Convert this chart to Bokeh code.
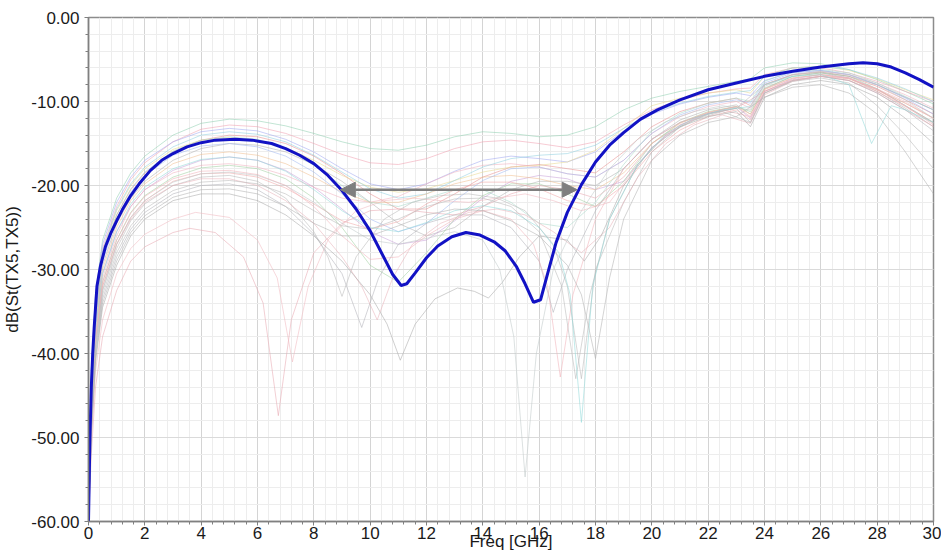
from bokeh.plotting import figure
from bokeh.models import Range1d, Arrow, NormalHead, PrintfTickFormatter, FixedTicker
from bokeh.embed import file_html
from bokeh.resources import INLINE

# ---------------- data ----------------
# highlighted trace (bold blue)
blue_freq = [0, 0.05, 0.1, 0.15, 0.2, 0.3, 0.43, 0.6, 0.8, 1.0, 1.2, 1.5, 1.8, 2.2, 2.6, 3.0, 3.5,
             4.0, 4.5, 5.2, 5.8, 6.5, 7.0, 7.5, 8.0, 8.5, 9.0, 9.5, 10.0, 10.4, 10.8, 11.1, 11.3,
             11.6, 12.0, 12.4, 12.9, 13.4, 13.9, 14.4, 14.8, 15.2, 15.5, 15.8, 16.05, 16.3, 16.6,
             17.0, 17.5, 18.0, 18.5, 19.0, 19.6, 20.2, 21.0, 22.0, 23.0, 24.0, 25.0, 26.0, 27.0,
             27.5, 28.0, 28.5, 29.0, 29.5, 30.0]
blue_db = [-60, -50, -44, -40, -37, -32, -29.5, -27.3, -25.6, -24.2, -22.9, -21.2, -19.8, -18.2,
           -17.0, -16.2, -15.4, -14.9, -14.6, -14.5, -14.6, -15.0, -15.6, -16.4, -17.4, -18.8,
           -20.6, -22.8, -25.4, -28.0, -30.6, -31.9, -31.7, -30.4, -28.6, -27.2, -26.1, -25.6,
           -25.9, -26.7, -27.8, -29.7, -31.7, -33.9, -33.6, -30.5, -26.8, -23.2, -19.9, -17.2,
           -15.2, -13.7, -12.1, -11.0, -9.8, -8.6, -7.8, -7.0, -6.4, -5.9, -5.5, -5.4, -5.5,
           -5.9, -6.6, -7.4, -8.3]

# double arrow marker
arrow_x0 = 8.94
arrow_x1 = 17.35
arrow_y = -20.5

# background traces on a common frequency grid
grid_freq = [0, 0.1, 0.25, 0.5, 1, 1.5, 2, 3, 4, 5, 6, 7, 8, 9, 10, 11, 12, 13, 14, 15, 16, 17,
             18, 19, 20, 21, 22, 23, 23.5, 24, 25, 26, 27, 28, 29, 30]
tr01 = [-60, -42, -33, -26.5, -21.5, -18.5, -16.5, -14, -12.6, -12.1, -12.3, -12.9, -13.8, -14.8,
        -15.6, -15.8, -15.2, -14.2, -13.6, -13.8, -14.2, -14, -13, -11, -9.6, -8.8, -8.2, -7.6,
        -7.3, -6.0, -5.4, -5.5, -6.2, -7.4, -8.8, -10.3]
tr02 = [-60, -43, -34, -27.5, -22.5, -19.3, -17.3, -14.8, -13.3, -12.8, -13, -13.8, -15, -16.3,
        -17.3, -17.5, -16.8, -15.6, -14.8, -14.6, -15, -15.5, -14.8, -12.8, -11, -9.8, -9, -8.5,
        -8.4, -6.8, -6, -6, -6.6, -7.6, -8.8, -10]
tr03 = [-60, -42, -33, -27, -22, -19, -17, -14.8, -13.6, -13.2, -13.5, -14.5, -16, -18, -19.8,
        -20.5, -19.8, -18.3, -17, -16.5, -16.8, -17.2, -16, -13.5, -11.5, -10.3, -9.5, -9, -9.3,
        -7.5, -6.5, -6.3, -6.8, -8, -9.5, -11]
tr04 = [-60, -44, -35, -28.5, -23.5, -20.5, -18.5, -16, -14.6, -14, -14.2, -15, -16.5, -18.6,
        -21, -22.8, -22.8, -21, -19, -17.8, -17.5, -18, -18.5, -16, -13, -11.2, -10.2, -9.6,
        -10.5, -8, -6.8, -6.5, -7, -8.2, -9.8, -11.5]
tr05 = [-60, -45, -36, -29.5, -24.5, -21.5, -19.5, -17, -15.6, -15, -15.2, -16, -17.5, -19.5,
        -22, -24.5, -26, -25, -22.5, -20.5, -19.5, -19.5, -20, -18, -14.5, -12.2, -11, -10.4,
        -11.5, -8.5, -7, -6.6, -7.2, -8.8, -10.8, -13]
tr06 = [-60, -43, -34, -28, -23, -20, -18, -15.7, -14.6, -14.3, -14.6, -15.5, -17, -18.8, -20.2,
        -20.8, -20.4, -19.4, -18.4, -17.8, -17.6, -17.2, -15.8, -13.2, -10.5, -9.6, -9.0, -8.6,
        -9.0, -7.0, -6.0, -5.8, -6.3, -7.3, -8.6, -9.8]
tr07 = [-60, -46, -37, -30.5, -25.5, -22.5, -20.5, -18.2, -17, -16.6, -17, -18.2, -20.2, -22.8,
        -25.5, -27, -26.5, -24.2, -21.5, -19.5, -18.8, -19.2, -20.5, -19.5, -15.5, -12.8, -11.4,
        -10.6, -12, -8.8, -7.3, -6.8, -7.2, -8.5, -10.5, -12.5]
tr08 = [-60, -46, -37.5, -31, -26, -22.5, -20.5, -18.5, -17.6, -17.4, -17.8, -18.8, -20.2, -21.5,
        -22, -21.3, -19.8, -18.4, -17.6, -17.4, -17.8, -18.6, -19, -17, -13.8, -11.8, -10.6, -10,
        -10.8, -8, -6.8, -6.4, -6.8, -7.8, -9.2, -10.8]
tr09 = [-60, -47, -38, -31.5, -26.5, -23.2, -21.2, -19, -17.9, -17.6, -18, -19.2, -21.5, -25,
        -29.5, -31.5, -28, -24, -21.2, -19.8, -19.8, -21, -22.5, -19.5, -15, -12.5, -11.2, -10.6,
        -11.2, -8.4, -7, -6.6, -7, -8.5, -10.5, -12.5]
tr10 = [-60, -43, -34, -27.8, -22.8, -19.8, -17.8, -15.4, -14, -13.6, -13.9, -14.8, -16.4, -18.4,
        -20.4, -21.5, -21, -19.4, -17.8, -16.8, -16.4, -16.2, -15.2, -13.2, -11.3, -10.2, -9.4,
        -8.9, -8.7, -7, -6, -5.8, -6.2, -7.2, -8.5, -10]
tr11 = [-60, -45, -36.5, -30, -25, -21.8, -19.8, -17.4, -16.3, -16, -16.4, -17.4, -19, -20.8,
        -22, -22, -21, -19.8, -19, -18.8, -19.2, -20, -20.5, -18.5, -15, -12.6, -11.3, -10.6,
        -11.5, -8.6, -7.2, -6.8, -7.3, -8.6, -10.2, -12]
tr12 = [-60, -44, -35.5, -29, -24, -20.8, -18.8, -16.4, -15.3, -15, -15.4, -16.5, -18.4, -21,
        -24, -25.5, -24.5, -21.8, -19.4, -18, -17.8, -18.6, -19, -17, -13.8, -11.6, -10.4, -9.8,
        -10.2, -7.8, -6.6, -6.3, -6.8, -8, -9.6, -11.5]
tr13 = [-60, -47, -38.5, -32, -27, -23.8, -21.8, -19.5, -18.6, -18.5, -19, -20.3, -22.2, -24.2,
        -25.2, -24.3, -22.2, -20.5, -19.6, -19.6, -20.4, -21.8, -22.5, -20, -16, -13.4, -11.8,
        -11, -12.2, -8.8, -7.4, -7, -7.5, -8.8, -10.6, -12.6]
tr14 = [-60, -44, -35, -28.5, -23.5, -20.4, -18.4, -15.9, -14.6, -14.2, -14.5, -15.6, -17.6, -20,
        -22, -22.5, -21.5, -20.5, -20.5, -22, -24.5, -25, -22, -17.5, -13.5, -11.4, -10.2, -9.6,
        -10, -7.6, -6.4, -6.2, -6.6, -7.8, -9.4, -11]

# background traces with resonant dips (own frequency points)
dip1_freq = [0, 0.1, 0.25, 0.5, 1, 1.5, 2, 3, 3.6, 4.5, 5.5, 6.2, 6.74, 7.2, 8, 9, 10, 11, 12, 13,
             14, 15, 16, 17, 18, 19, 20, 21, 22, 23, 24, 25, 26, 27, 28, 29, 30]
dip1_db = [-60, -52, -44, -38, -32.5, -29, -27.3, -25.6, -25.1, -25.6, -28.5, -34, -47.4, -36,
           -28, -24.5, -23, -22.8, -23.2, -23.5, -22.5, -21, -20, -20.5, -21.5, -19, -15, -12.8,
           -11.5, -10.8, -8.8, -7.5, -7, -7.5, -9, -11, -13]
dip2_freq = [0, 0.1, 0.25, 0.5, 1, 1.5, 2, 3, 3.8, 5, 6, 6.7, 7.24, 7.8, 8.5, 9.5, 10.5, 11.5,
             12.5, 13.5, 14.5, 15.5, 16.5, 17.5, 18.5, 19.5, 20.5, 21.5, 22.5, 23.5, 24, 25, 26,
             27, 28, 29, 30]
dip2_db = [-60, -50, -42, -36, -30.5, -27.5, -25.8, -24, -23.2, -23.8, -26.5, -31, -41, -32,
           -26.5, -23, -21.8, -21.5, -21.8, -22, -21.5, -21, -21.8, -23, -22, -17.5, -14, -12,
           -11, -11.8, -9, -7.5, -7, -7.2, -8.5, -10, -12]
dip3_freq = [0, 0.1, 0.25, 0.5, 1, 1.5, 2, 3, 4, 5, 6, 7, 8, 8.5, 9, 9.5, 10.5, 11.5, 12.5, 13.5,
             14.5, 15.5, 16.5, 17, 17.5, 18, 19, 20, 21, 22, 23, 24, 25, 26, 27, 28, 29, 30]
dip3_db = [-60, -48, -39, -32.5, -27.5, -24.2, -22.2, -20, -19, -18.8, -19.5, -21.5, -25.5,
           -28.5, -33.2, -28.5, -24, -22, -21.2, -21, -21.5, -23, -27, -32, -43, -30, -22, -16,
           -13, -11.5, -10.8, -8, -6.8, -6.5, -7, -8, -9.5, -11]
dip4_freq = [0, 0.1, 0.25, 0.5, 1, 1.5, 2, 3, 4, 5, 6, 7, 8, 9, 9.7, 10.3, 11, 12, 13, 14, 15,
             16, 16.5, 17, 18, 19, 20, 21, 22, 23, 23.5, 24, 25, 26, 27, 28, 29, 30]
dip4_db = [-60, -49, -40, -33.5, -28.5, -25.2, -23.2, -21, -20, -19.8, -20.5, -22.5, -25.8,
           -30.5, -36.9, -31, -27, -24.5, -23.5, -23.5, -25, -29, -35.1, -30, -23, -18, -14.5,
           -12.5, -11.4, -10.8, -12.5, -9, -7.5, -7, -7.5, -9, -11, -13.5]
dip5_freq = [0, 0.1, 0.25, 0.5, 1, 1.5, 2, 3, 4, 5, 6, 7, 8, 9, 9.7, 10.25, 10.8, 11.5, 12.5,
             13.5, 14.5, 15.5, 16.5, 17.5, 18.5, 19.5, 20.5, 21.5, 22.5, 23.5, 24, 25, 26, 27,
             28, 29, 30]
dip5_db = [-60, -47, -38.5, -32, -27, -24, -22, -20, -19.2, -19.2, -20, -21.8, -24.5, -28.5,
           -32, -36, -31, -27, -24.5, -23.2, -22.8, -23.5, -25.5, -28, -25, -19, -15, -12.8,
           -11.6, -12.6, -9.2, -7.6, -7, -7.3, -8.6, -10.2, -12]
dip6_freq = [0, 0.1, 0.25, 0.5, 1, 1.5, 2, 3, 4, 5, 6, 7, 8, 9, 10, 10.6, 11.07, 11.6, 12.3,
             13.1, 13.7, 14.2, 14.7, 15.3, 16, 17, 17.6, 18.2, 19, 20, 21, 22, 23, 23.5, 24, 25,
             26, 27, 28, 29, 30]
dip6_db = [-60, -50, -41, -34.5, -29.5, -26, -24, -21.8, -21, -21, -21.8, -23.5, -26, -29, -33,
           -36.5, -40.8, -36.5, -33.5, -32.2, -32.6, -33.4, -31.5, -28.5, -26, -26.5, -29, -26,
           -20, -15.5, -13, -11.8, -11.2, -13, -9.5, -8, -7.5, -8, -9.5, -12, -15]
dip7_freq = [0, 0.1, 0.25, 0.5, 1, 1.5, 2, 3, 4, 5, 6, 7, 8, 9, 10, 11, 12, 13, 14, 14.6, 15.1,
             15.5, 15.9, 16.5, 17.5, 18.5, 19.5, 20.5, 21.5, 22.5, 23.5, 24, 25, 26, 27, 28, 29,
             30]
dip7_db = [-60, -48, -39, -32.5, -27, -23.8, -21.8, -19.6, -18.6, -18.4, -18.8, -20, -22, -24.5,
           -26.5, -27, -26.3, -25.5, -26.5, -30, -38, -54.7, -40, -30, -23, -18, -14.5, -12.4,
           -11.2, -10.5, -11, -8.2, -6.8, -6.4, -6.8, -8, -9.8, -12]
dip8_freq = [0, 0.1, 0.25, 0.5, 1, 1.5, 2, 3, 4, 5, 6, 7, 8, 9, 10, 11, 12, 13, 14, 15, 15.8,
             16.3, 16.75, 17.2, 18, 19, 20, 21, 22, 23, 23.5, 24, 25, 26, 27, 28, 29, 30]
dip8_db = [-60, -47, -38, -31.5, -26.5, -23.3, -21.3, -19.2, -18.3, -18.2, -18.7, -20, -22.5,
           -26, -28.8, -28.5, -26, -24, -23, -24, -27, -32, -42.8, -33, -24, -18, -14.5, -12.5,
           -11.3, -10.6, -11.8, -8.5, -7.2, -6.8, -7.2, -8.6, -10.5, -12.8]
dip9_freq = [0, 0.1, 0.25, 0.5, 1, 1.5, 2, 3, 4, 5, 6, 7, 8, 9, 10, 11, 12, 13, 14, 15, 16,
             16.8, 17.3, 17.8, 18.5, 19.5, 20.5, 21.5, 22.5, 23.5, 24, 25, 26, 27, 28, 29, 30]
dip9_db = [-60, -48, -39.5, -33, -28, -24.8, -22.8, -20.6, -19.6, -19.4, -19.8, -21, -23,
           -24.8, -25.2, -24, -22.5, -21.6, -21.5, -22.5, -25.5, -32, -43, -33, -24, -17.5, -14,
           -12.2, -11.2, -12.5, -9, -7.6, -7.2, -7.8, -10.5, -14, -18]
dip10_freq = [0, 0.1, 0.25, 0.5, 1, 1.5, 2, 3, 4, 5, 6, 7, 8, 9, 10, 11, 12, 13, 14, 15, 16,
              16.7, 17.1, 17.5, 17.9, 18.5, 19.5, 20.5, 21.5, 22.5, 23.5, 24, 25, 26, 27, 27.8,
              28.5, 29, 30]
dip10_db = [-60, -46, -37, -30.5, -25.5, -22.2, -20.2, -18, -16.9, -16.6, -17, -18.3, -20.5,
            -23, -25, -25.5, -24.4, -23, -22.4, -23, -25, -28, -33, -48.2, -32, -24, -17.5,
            -13.8, -12, -11, -10.6, -8, -7, -6.8, -8, -15, -10.5, -11, -12.5]
dip11_freq = [0, 0.1, 0.25, 0.5, 1, 1.5, 2, 3, 4, 5, 6, 7, 8, 9, 10, 11, 12, 13, 14, 15, 16, 17,
              17.5, 18, 18.5, 19, 20, 21, 22, 23, 24, 25, 26, 27, 28, 29, 30]
dip11_db = [-60, -49, -40.5, -34, -29, -25.6, -23.6, -21.4, -20.5, -20.4, -21, -22.5, -24.5,
            -26, -26, -24.8, -23.5, -22.8, -23, -24.2, -26, -29.5, -33, -40.6, -31, -24, -17,
            -14, -12.5, -11.8, -9.5, -8.3, -8, -9, -11.5, -16, -21]

x_ticks = [0, 2, 4, 6, 8, 10, 12, 14, 16, 18, 20, 22, 24, 26, 28, 30]
y_ticks = [-60, -50, -40, -30, -20, -10, 0]

# ---------------- figure ----------------
W, H = 941, 553
p = figure(width=W, height=H, output_backend="svg", toolbar_location=None,
           x_range=Range1d(0, 30), y_range=Range1d(-60, 0))
p.min_border_left = 88
p.min_border_right = 8
p.min_border_top = 17
p.min_border_bottom = 32
p.background_fill_color = "white"
p.border_fill_color = "white"
p.outline_line_color = "#8c8c8c"
p.outline_line_width = 1.5

FONT = "Liberation Sans"
TXT = "#1a1a1a"

p.xaxis.ticker = FixedTicker(ticks=x_ticks,
                             minor_ticks=[round(i * 0.4, 2) for i in range(0, 76)])
p.yaxis.ticker = FixedTicker(ticks=y_ticks, minor_ticks=list(range(-60, 1, 2)))
p.yaxis.formatter = PrintfTickFormatter(format="%.2f")

for ax in (p.xaxis[0], p.yaxis[0]):
    ax.axis_line_color = "#808080"
    ax.axis_line_width = 1.5
    ax.major_tick_line_color = "#808080"
    ax.minor_tick_line_color = "#808080"
    ax.major_tick_in = 0
    ax.major_tick_out = 4
    ax.minor_tick_in = 0
    ax.minor_tick_out = 3
    ax.major_label_text_font = FONT
    ax.major_label_text_font_size = "17px"
    ax.major_label_text_color = TXT
    ax.axis_label_text_font = FONT
    ax.axis_label_text_font_size = "17px"
    ax.axis_label_text_font_style = "normal"
    ax.axis_label_text_color = TXT

p.xaxis.axis_label = "Freq [GHz]"
p.xaxis.major_label_standoff = 1
p.xaxis.axis_label_standoff = -10
p.yaxis.axis_label = "dB(St(TX5,TX5))"
p.yaxis.major_label_standoff = 5
p.yaxis.axis_label_standoff = 6

p.xgrid.grid_line_color = "#d4d4d4"
p.ygrid.grid_line_color = "#dadada"
p.xgrid.minor_grid_line_color = "#ededed"
p.ygrid.minor_grid_line_color = "#ededed"
p.xgrid.grid_line_width = 1
p.ygrid.grid_line_width = 1

# background traces
common = [
    (tr01, "#8fd0b0"), (tr02, "#f0a0b0"), (tr03, "#a0a8f0"), (tr04, "#e89090"),
    (tr05, "#b0b0b0"), (tr06, "#e8d890"), (tr07, "#c8a0d8"), (tr08, "#f0b0c0"),
    (tr09, "#a0d0a0"), (tr10, "#90d0e0"), (tr11, "#f0c090"), (tr12, "#a0b8f0"),
    (tr13, "#f0a8a8"), (tr14, "#a8d8c8"),
]
for vals, col in common:
    assert len(vals) == len(grid_freq)
    p.line(grid_freq, vals, line_color=col, line_width=1, line_alpha=0.55)

dips = [
    (dip1_freq, dip1_db, "#e8a8b0"), (dip2_freq, dip2_db, "#f0b8c0"),
    (dip3_freq, dip3_db, "#b8b8b8"), (dip4_freq, dip4_db, "#b0b0b8"),
    (dip5_freq, dip5_db, "#e8b0b8"), (dip6_freq, dip6_db, "#a8a8a8"),
    (dip7_freq, dip7_db, "#c0c8c8"), (dip8_freq, dip8_db, "#f0b0b8"),
    (dip9_freq, dip9_db, "#b8b8b8"), (dip10_freq, dip10_db, "#90d8d8"),
    (dip11_freq, dip11_db, "#b0b0b0"),
]
for fr, vals, col in dips:
    assert len(fr) == len(vals), (len(fr), len(vals))
    p.line(fr, vals, line_color=col, line_width=1, line_alpha=0.55)

# highlighted trace
p.line(blue_freq, blue_db, line_color="#1212c4", line_width=3)

# double-headed arrow
p.add_layout(Arrow(
    x_start=arrow_x0, y_start=arrow_y, x_end=arrow_x1, y_end=arrow_y,
    line_color="#7f7f7f", line_width=2.5,
    start=NormalHead(size=15, fill_color="#7f7f7f", line_color="#7f7f7f"),
    end=NormalHead(size=15, fill_color="#7f7f7f", line_color="#7f7f7f"),
))

open("out.html", "w").write(file_html(p, INLINE))
